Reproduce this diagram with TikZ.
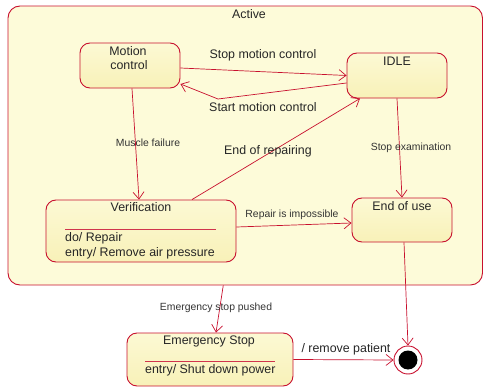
\documentclass[tikz,border=0pt]{standalone}
\usepackage{fontspec}
\setmainfont{Liberation Sans}
\usetikzlibrary{arrows.meta,calc}
\definecolor{bord}{RGB}{200,16,46}
\definecolor{cfill}{RGB}{253,251,217}
\definecolor{stop}{RGB}{252,249,212}
\definecolor{sbot}{RGB}{248,241,184}
\begin{document}
\begin{tikzpicture}[x=1pt,y=-1pt,
  container/.style={draw=bord, line width=0.9pt, rounded corners=12pt, fill=cfill, inner sep=0pt},
  statebox/.style={draw=bord, line width=0.9pt, rounded corners=10pt, top color=stop, bottom color=sbot, inner sep=0pt},
  big/.style={font=\fontsize{12.4}{14.5}\selectfont, inner sep=0pt, anchor=base, text=black!85},
  small/.style={font=\fontsize{10.4}{12}\selectfont, inner sep=0pt, anchor=base, text=black!80},
  conn/.style={draw=bord, line width=0.7pt, -{Straight Barb[length=7pt,width=11pt]}},
  sep/.style={draw=bord!85, line width=0.9pt}
]
\useasboundingbox (0,0) rectangle (483,388);

% container
\node[container, minimum width=474.5, minimum height=279] (active) at (245.25,145.5) {};
\node[big] (activet) at (249,18) {Active};

% states
\node[statebox, minimum width=100, minimum height=45] (mc) at (130,65.5) {};
\node[big] (mct1) at (128,56) {Motion};
\node[big] (mct2) at (129,70) {control};

\node[statebox, minimum width=100, minimum height=45] (idle) at (397,75.5) {};
\node[big] (idlet) at (397,65) {IDLE};

\node[statebox, minimum width=190, minimum height=62] (ver) at (141,231) {};
\node[big] (vert) at (141,211) {Verification};
\draw[sep] (65,229) -- (216,229);
\node[big, anchor=base west] (vera) at (65,241) {do/ Repair};
\node[big, anchor=base west] (verb) at (65,256) {entry/ Remove air pressure};

\node[statebox, minimum width=100, minimum height=44] (eou) at (402,220) {};
\node[big] (eout) at (402,210) {End of use};

\node[statebox, minimum width=166, minimum height=53] (es) at (210,359.5) {};
\node[big] (est) at (209,344) {Emergency Stop};
\draw[sep] (145,361) -- (275,361);
\node[big, anchor=base west] (esa) at (145,373) {entry/ Shut down power};

% final state
\node[circle, draw=bord, line width=0.9pt, fill=white, minimum size=28, inner sep=0pt] (final) at (408,360) {};
\node[circle, fill=black, minimum size=19, inner sep=0pt] (finalin) at (final) {};

% transitions
\coordinate (bend) at (218,99);
\draw[conn] ([yshift=-2.5pt]mc.east) -- (idle.west);
\node[big] (l1) at (263,58) {Stop motion control};
\draw[conn] ([yshift=-7.5pt]idle.west) -- (bend) -- ([yshift=-18.5pt]mc.east);
\node[big] (l2) at (263,111) {Start motion control};

\draw[conn] ([xshift=2pt]mc.south) -- ([xshift=-2pt]ver.north);
\node[small] (l3) at (148,146) {Muscle failure};

\draw[conn] ([xshift=51pt]ver.north) -- ([xshift=-37pt]idle.south);
\node[big] (l4) at (268,154) {End of repairing};

\draw[conn] (idle.south) -- (eou.north);
\node[small] (l5) at (411,150) {Stop examination};

\draw[conn] ([yshift=4pt]ver.east) -- ([yshift=-3pt]eou.west);
\node[small] (l6) at (292,217.5) {Repair is impossible};

\draw[conn] ([xshift=2pt]eou.south) -- (final.north);

\draw[conn] ([xshift=-22pt]active.south) -- ([xshift=6pt]es.north);
\node[small] (l7) at (216,310.5) {Emergency stop pushed};

\draw[conn] (es.east) -- (final.west);
\node[big] (l8) at (346,352) {/ remove patient};
\end{tikzpicture}
\end{document}
